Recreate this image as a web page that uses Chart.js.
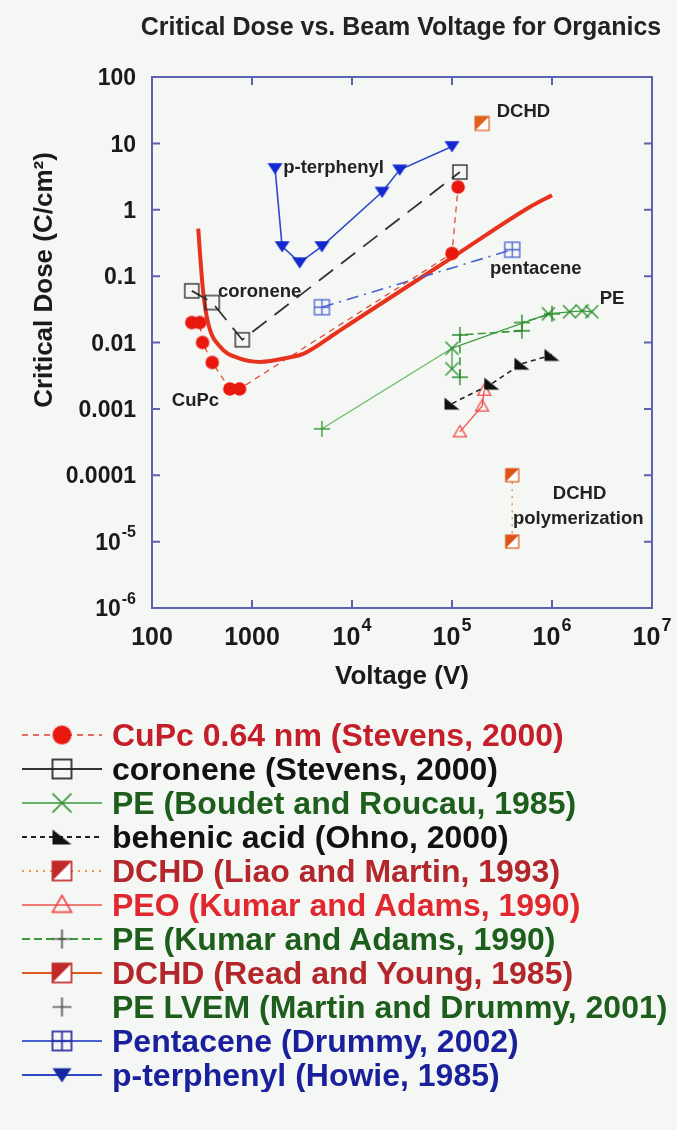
<!DOCTYPE html>
<html>
<head>
<meta charset="utf-8">
<title>Critical Dose vs. Beam Voltage for Organics</title>
<script src="https://cdn.jsdelivr.net/npm/chart.js@4.4.1/dist/chart.umd.min.js"></script>
<style>
  html, body { margin: 0; padding: 0; background: #f4f7f4; }
  #wrap { position: relative; width: 677px; height: 700px; }
  #legend { list-style: none; margin: 18px 0 0 0; padding: 0;
            font: bold 32px 'Liberation Sans', Arial, sans-serif; }
  #legend li { height: 34px; display: flex; align-items: center; white-space: nowrap; }
  #legend canvas { width: 100px; height: 34px; margin-left: 10px; flex: none; }
  #legend span { margin-left: 2px; line-height: 34px; }
</style>
</head>
<body>
<div id="wrap"><canvas id="chart"></canvas></div>
<ul id="legend"></ul>
<script>
// Texts
const titleText = 'Critical Dose vs. Beam Voltage for Organics';
const xAxisTitle = 'Voltage (V)';
const yAxisTitle = 'Critical Dose (C/cm²)';

// Axis ticks (decades); labels are a base plus an optional raised exponent
const xTickValues = [100, 1000, 1e4, 1e5, 1e6, 1e7];
const xTickBase = ['100', '1000', '10', '10', '10', '10'];
const xTickExp = ['', '', '4', '5', '6', '7'];
const yTickValues = [1e-6, 1e-5, 1e-4, 1e-3, 0.01, 0.1, 1, 10, 100];
const yTickBase = ['10', '10', '0.0001', '0.001', '0.01', '0.1', '1', '10', '100'];
const yTickExp = ['-6', '-5', '', '', '', '', '', '', ''];

// CuPc 0.64 nm (Stevens, 2000)
const cupcV = [250, 300, 320, 400, 600, 750, 1e5, 1.15e5];
const cupcDose = [0.02, 0.02, 0.01, 0.005, 0.002, 0.002, 0.22, 2.2];
// coronene (Stevens, 2000)
const coroneneV = [250, 400, 800, 1.2e5];
const coroneneDose = [0.06, 0.04, 0.011, 3.7];
// PE (Boudet and Roucau, 1985)
const peBoudetV = [1e5, 1e5, 9.2e5, 1.5e6, 2e6, 2.5e6];
const peBoudetDose = [0.004, 0.0082, 0.027, 0.029, 0.03, 0.029];
// behenic acid (Ohno, 2000)
const behenicV = [1e5, 2.5e5, 5e5, 1e6];
const behenicDose = [0.0012, 0.0024, 0.0048, 0.0065];
// DCHD (Liao and Martin, 1993) - polymerization
const dchdLiaoV = [4e5, 4e5];
const dchdLiaoDose = [1e-4, 1e-5];
// PEO (Kumar and Adams, 1990)
const peoV = [1.2e5, 2e5, 2.1e5];
const peoDose = [4.5e-4, 0.0011, 0.0019];
// PE (Kumar and Adams, 1990)
const peKumarV = [1.2e5, 1.2e5, 5e5, 5e5, 1e6];
const peKumarDose = [0.003, 0.013, 0.015, 0.02, 0.027];
// DCHD (Read and Young, 1985)
const dchdReadV = [2e5];
const dchdReadDose = [20];
// PE LVEM (Martin and Drummy, 2001), with its guide line
const peLvemV = [5000, 1e5];
const peLvemDose = [5e-4, 0.0082];
// Pentacene (Drummy, 2002)
const pentaceneV = [5000, 4e5];
const pentaceneDose = [0.034, 0.25];
// p-terphenyl (Howie, 1985)
const pterV = [1700, 2000, 3000, 5000, 2e4, 3e4, 1e5];
const pterDose = [4.2, 0.28, 0.16, 0.28, 1.85, 4, 9];
// model curve (thick red)
const curveV = [290, 300, 326, 366, 480, 760, 1200, 2400, 3300, 7000, 1e4, 1e5, 6e5, 1e6];
const curveDose = [0.52, 0.25, 0.055, 0.019, 0.0086, 0.0057, 0.0051, 0.006, 0.0068, 0.014, 0.02, 0.19, 1.1, 1.66];

// In-plot labels, anchored at data coordinates
const noteTexts = ['p-terphenyl', 'coronene', 'CuPc', 'DCHD', 'pentacene', 'PE', 'DCHD', 'polymerization'];
const noteV = [2050, 457, 158, 2.8e5, 2.4e5, 3e6, 1.02e6, 4.07e5];
const noteDose = [4.2, 0.057, 0.00134, 30, 0.13, 0.046, 5.3e-5, 2.2e-5];

const FONT = "'Liberation Sans', Arial, sans-serif";
const axisColor = '#5b63b0';

// Draws one marker symbol into a small canvas (used as pointStyle)
function marker(kind, color, s, lw) {
  const c = document.createElement('canvas');
  c.width = c.height = Math.ceil(s + 4);
  const g = c.getContext('2d');
  const m = c.width / 2, h = s / 2;
  g.strokeStyle = color;
  g.fillStyle = color;
  g.lineWidth = lw || 1.5;
  g.beginPath();
  switch (kind) {
    case 'dot':
      g.arc(m, m, h, 0, Math.PI * 2);
      g.fill();
      break;
    case 'square':
      g.strokeRect(m - h, m - h, s, s);
      break;
    case 'grid':
      g.strokeRect(m - h, m - h, s, s);
      g.moveTo(m, m - h); g.lineTo(m, m + h);
      g.moveTo(m - h, m); g.lineTo(m + h, m);
      g.stroke();
      break;
    case 'x':
      g.moveTo(m - h, m - h); g.lineTo(m + h, m + h);
      g.moveTo(m + h, m - h); g.lineTo(m - h, m + h);
      g.stroke();
      break;
    case 'plus':
      g.moveTo(m, m - h); g.lineTo(m, m + h);
      g.moveTo(m - h, m); g.lineTo(m + h, m);
      g.stroke();
      break;
    case 'corner':
      g.moveTo(m - h, m - h * 0.8); g.lineTo(m - h, m + h * 0.8); g.lineTo(m + h, m + h * 0.8);
      g.closePath();
      g.fill();
      break;
    case 'half':
      g.fillStyle = '#fff';
      g.fillRect(m - h, m - h, s, s);
      g.fillStyle = color;
      g.moveTo(m - h, m - h); g.lineTo(m + h, m - h); g.lineTo(m - h, m + h);
      g.closePath();
      g.fill();
      g.strokeRect(m - h, m - h, s, s);
      break;
    case 'triUp':
      g.moveTo(m, m - h); g.lineTo(m + h, m + h * 0.75); g.lineTo(m - h, m + h * 0.75);
      g.closePath();
      g.stroke();
      break;
    case 'triDown':
      g.moveTo(m - h, m - h * 0.7); g.lineTo(m + h, m - h * 0.7); g.lineTo(m, m + h * 0.8);
      g.closePath();
      g.fill();
      break;
  }
  return c;
}

function pts(xs, ys) {
  return xs.map((v, i) => ({ x: v, y: ys[i] }));
}

function series(label, xs, ys, opt) {
  return Object.assign({
    label: label,
    data: pts(xs, ys),
    showLine: true,
    borderWidth: 1.5,
    pointRadius: 6,
    pointHoverRadius: 6,
    fill: false,
    inLegend: true
  }, opt);
}

const red = '#e8180f', green = '#3a9a3a';

const datasets = [
  series('CuPc 0.64 nm (Stevens, 2000)', cupcV, cupcDose, {
    borderColor: '#e0402c', borderWidth: 1.2, borderDash: [6, 5],
    pointStyle: marker('dot', red, 13.5), mk: ['dot', red], textColor: '#c41e2a'
  }),
  series('coronene (Stevens, 2000)', coroneneV, coroneneDose, {
    borderColor: '#333', borderWidth: 1.8, borderDash: [18, 10],
    pointStyle: marker('square', '#222', 14, 1.3), mk: ['square', '#222'], textColor: '#111',
    legendDash: []
  }),
  series('PE (Boudet and Roucau, 1985)', peBoudetV, peBoudetDose, {
    borderColor: green, borderWidth: 1.2,
    pointStyle: marker('x', '#2a8a2a', 13, 1.4), mk: ['x', '#2a8a2a'], textColor: '#1d5e1d'
  }),
  series('behenic acid (Ohno, 2000)', behenicV, behenicDose, {
    borderColor: '#222', borderWidth: 1.6, borderDash: [5, 4],
    pointStyle: marker('corner', '#111', 15), mk: ['corner', '#111'], textColor: '#111'
  }),
  series('DCHD (Liao and Martin, 1993)', dchdLiaoV, dchdLiaoDose, {
    borderColor: '#e8964a', borderWidth: 1.5, borderDash: [2, 5],
    pointStyle: marker('half', '#dd5418', 13, 1.2), mk: ['half', '#c0282a'], textColor: '#b3262b'
  }),
  series('PEO (Kumar and Adams, 1990)', peoV, peoDose, {
    borderColor: '#f05050', borderWidth: 1.3,
    pointStyle: marker('triUp', '#f04848', 13, 1.3), mk: ['triUp', '#f04848'], textColor: '#e0282e'
  }),
  series('PE (Kumar and Adams, 1990)', peKumarV, peKumarDose, {
    borderColor: green, borderWidth: 1.6, borderDash: [8, 4],
    pointStyle: marker('plus', '#2a8a2a', 16, 1.4), mk: ['plus', '#555'], textColor: '#1d5e1d'
  }),
  series('DCHD (Read and Young, 1985)', dchdReadV, dchdReadDose, {
    borderColor: '#e05a1a',
    pointStyle: marker('half', '#e0601c', 14, 1.2), mk: ['half', '#c0282a'], textColor: '#b3262b'
  }),
  series('PE LVEM (Martin and Drummy, 2001)', peLvemV, peLvemDose, {
    borderColor: '#66b866', borderWidth: 1.2, pointRadius: [6, 0],
    pointStyle: marker('plus', '#3a9a3a', 16, 1.4), mk: ['plus', '#555'], textColor: '#1d5e1d',
    legendLine: false
  }),
  series('Pentacene (Drummy, 2002)', pentaceneV, pentaceneDose, {
    borderColor: '#4a60d0', borderWidth: 1.6, borderDash: [12, 6, 2, 6],
    pointStyle: marker('grid', '#4a60d0', 15, 1.3), mk: ['grid', '#2a2aa0'], textColor: '#1a1f9c',
    legendDash: []
  }),
  series('p-terphenyl (Howie, 1985)', pterV, pterDose, {
    borderColor: '#3048c8', borderWidth: 1.6,
    pointStyle: marker('triDown', '#1428d0', 15), mk: ['triDown', '#1428a0'], textColor: '#1a1f9c'
  }),
  series('model', curveV, curveDose, {
    borderColor: '#e8321e', borderWidth: 4, pointRadius: 0, pointStyle: 'circle',
    cubicInterpolationMode: 'monotone', inLegend: false
  })
];

// "10" with a small raised exponent, or a plain number
function drawTickLabel(ctx, base, exp, x, yMid, size, align) {
  const es = Math.round(size * 0.7);
  const bf = 'bold ' + size + 'px ' + FONT;
  const ef = 'bold ' + es + 'px ' + FONT;
  ctx.font = bf;
  const bw = ctx.measureText(base).width;
  ctx.font = ef;
  const ew = exp ? ctx.measureText(exp).width + 1 : 0;
  const left = align === 'right' ? x - bw - ew : x - (bw + ew) / 2;
  const cap = size * 0.716;
  ctx.textAlign = 'left';
  ctx.textBaseline = 'alphabetic';
  ctx.font = bf;
  ctx.fillText(base, left, yMid + cap / 2);
  if (exp) {
    ctx.font = ef;
    ctx.fillText(exp, left + bw + 1, yMid - cap / 2 + 4);
  }
}

// Frame with inward ticks on all four sides, tick labels, notes and titles
const framePlugin = {
  id: 'frame',
  beforeDatasetsDraw(chart) {
    const { ctx, chartArea: a } = chart;
    const xs = chart.scales.x, ys = chart.scales.y;
    ctx.save();
    ctx.strokeStyle = axisColor;
    ctx.lineWidth = 2;
    ctx.strokeRect(a.left, a.top, a.right - a.left, a.bottom - a.top);
    ctx.beginPath();
    xs.ticks.forEach(t => {
      const p = xs.getPixelForValue(t.value);
      if (p <= a.left + 1 || p >= a.right - 1) return;
      ctx.moveTo(p, a.bottom); ctx.lineTo(p, a.bottom - 8);
      ctx.moveTo(p, a.top); ctx.lineTo(p, a.top + 8);
    });
    ys.ticks.forEach(t => {
      const p = ys.getPixelForValue(t.value);
      if (p <= a.top + 1 || p >= a.bottom - 1) return;
      ctx.moveTo(a.left, p); ctx.lineTo(a.left + 8, p);
      ctx.moveTo(a.right, p); ctx.lineTo(a.right - 8, p);
    });
    ctx.stroke();
    ctx.restore();
  },
  afterDatasetsDraw(chart) {
    const { ctx } = chart;
    const xs = chart.scales.x, ys = chart.scales.y;
    ctx.save();
    ctx.font = 'bold 18.5px ' + FONT;
    ctx.fillStyle = '#222';
    ctx.textAlign = 'left';
    ctx.textBaseline = 'middle';
    noteTexts.forEach((t, i) => {
      ctx.fillText(t, xs.getPixelForValue(noteV[i]), ys.getPixelForValue(noteDose[i]));
    });
    ctx.restore();
  },
  afterDraw(chart) {
    const { ctx, chartArea: a } = chart;
    const xs = chart.scales.x, ys = chart.scales.y;
    ctx.save();
    ctx.fillStyle = '#1a1a1a';
    xs.ticks.forEach(t => {
      const i = xTickValues.indexOf(t.value);
      drawTickLabel(ctx, xTickBase[i], xTickExp[i], xs.getPixelForValue(t.value), a.bottom + 28, 25, 'center');
    });
    ys.ticks.forEach(t => {
      const i = yTickValues.indexOf(t.value);
      drawTickLabel(ctx, yTickBase[i], yTickExp[i], a.left - 16, ys.getPixelForValue(t.value), 23, 'right');
    });
    // chart title, centred slightly left of the plot centre
    ctx.fillStyle = '#222';
    ctx.font = 'bold 25px ' + FONT;
    ctx.textAlign = 'center';
    ctx.textBaseline = 'middle';
    ctx.fillText(titleText, (a.left + a.right) / 2 - 1, 28);
    // y axis title, a bit above the axis centre as in the original
    ctx.fillStyle = '#1a1a1a';
    ctx.translate(45, 280);
    ctx.rotate(-Math.PI / 2);
    ctx.font = 'bold 26px ' + FONT;
    ctx.fillText(yAxisTitle, 0, 0);
    ctx.restore();
  }
};

const chart = new Chart(document.getElementById('chart'), {
  type: 'scatter',
  data: { datasets: datasets },
  options: {
    responsive: true,
    maintainAspectRatio: false,
    animation: false,
    layout: { padding: { top: 77, right: 25 } },
    plugins: {
      legend: { display: false },
      tooltip: { enabled: false },
      title: { display: false }
    },
    scales: {
      x: {
        type: 'logarithmic',
        min: 100,
        max: 1e7,
        grid: { display: false, drawTicks: false },
        border: { display: false },
        afterBuildTicks: s => { s.ticks = xTickValues.map(v => ({ value: v })); },
        afterFit: s => { s.height = 92; s.paddingLeft = 0; s.paddingRight = 0; },
        ticks: { display: false },
        title: {
          display: true,
          text: xAxisTitle,
          color: '#1a1a1a',
          font: { family: FONT, size: 26, weight: 'bold' },
          padding: { top: 0, bottom: 8 }
        }
      },
      y: {
        type: 'logarithmic',
        min: 1e-6,
        max: 100,
        grid: { display: false, drawTicks: false },
        border: { display: false },
        afterBuildTicks: s => { s.ticks = yTickValues.map(v => ({ value: v })); },
        afterFit: s => { s.width = 152; s.paddingTop = 0; s.paddingBottom = 0; },
        ticks: { display: false }
      }
    }
  },
  plugins: [framePlugin]
});

// HTML legend built from the datasets
function buildLegend(chart) {
  const ul = document.getElementById('legend');
  ul.innerHTML = '';
  chart.data.datasets.filter(d => d.inLegend).forEach(d => {
    const li = document.createElement('li');
    const c = document.createElement('canvas');
    c.width = 100; c.height = 34;
    const g = c.getContext('2d');
    if (d.legendLine !== false) {
      g.strokeStyle = d.borderColor;
      g.lineWidth = Math.min(d.borderWidth + 0.4, 2);
      g.setLineDash(d.legendDash || d.borderDash || []);
      g.beginPath();
      g.moveTo(12, 17); g.lineTo(92, 17);
      g.stroke();
    }
    const img = marker(d.mk[0], d.mk[1], 19, 1.7);
    g.drawImage(img, 52 - img.width / 2, 17 - img.height / 2);
    const span = document.createElement('span');
    span.textContent = d.label;
    span.style.color = d.textColor;
    li.appendChild(c);
    li.appendChild(span);
    ul.appendChild(li);
  });
}
buildLegend(chart);
</script>
</body>
</html>
